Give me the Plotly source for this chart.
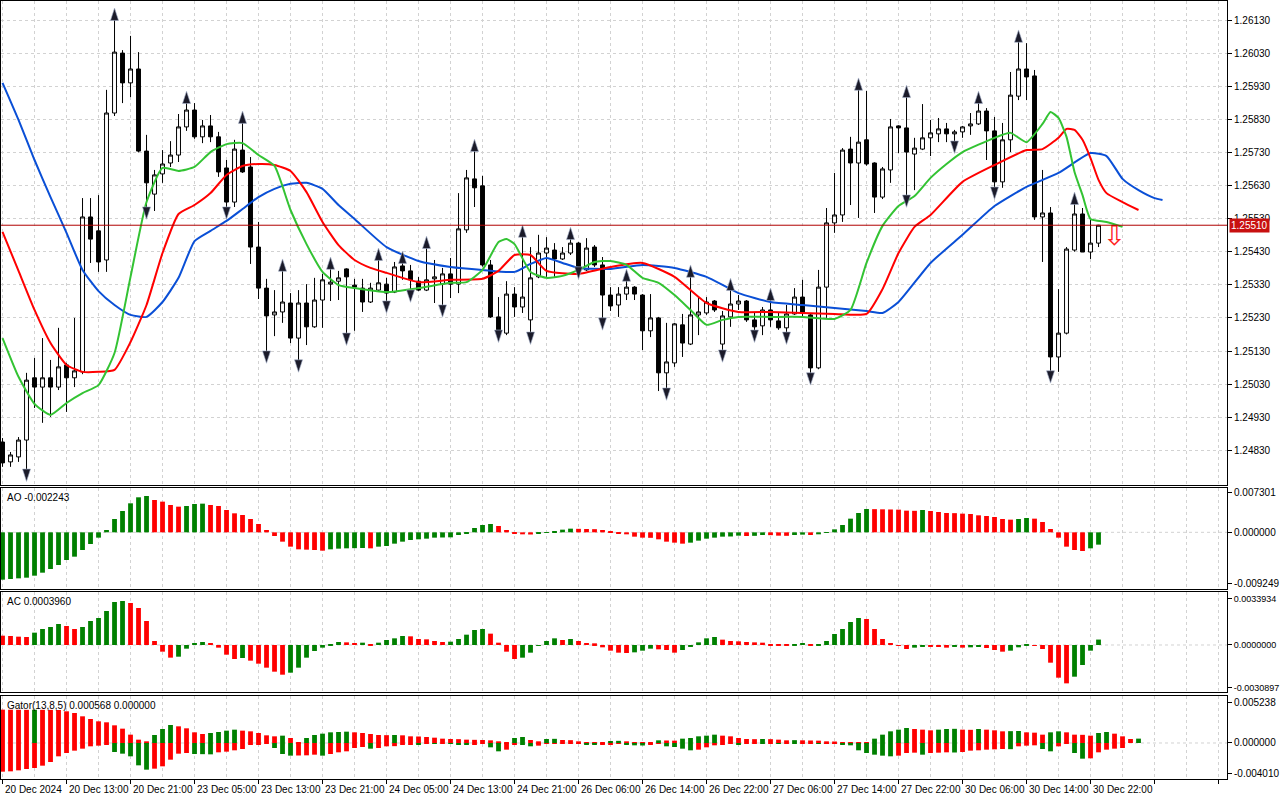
import plotly.graph_objects as go
from plotly.subplots import make_subplots

# ---- GBPUSD H1, 20 Dec 2024 05:00 .. 30 Dec 2024 23:00 (138 bars) ----
open_ = [
    1.24855, 1.24795, 1.24810, 1.24861, 1.25049, 1.25021, 1.25049, 1.25021, 1.25088, 1.25049,
    1.25067, 1.25535, 1.25493, 1.25405, 1.25849, 1.26030, 1.25940, 1.25982, 1.25734, 1.25604,
    1.25665, 1.25698, 1.25722, 1.25807, 1.25858, 1.25777, 1.25810, 1.25777, 1.25683, 1.25580,
    1.25737, 1.25686, 1.25444, 1.25320, 1.25239, 1.25248, 1.25275, 1.25169, 1.25275, 1.25203,
    1.25284, 1.25332, 1.25341, 1.25378, 1.25329, 1.25320, 1.25278, 1.25314, 1.25332, 1.25308,
    1.25387, 1.25372, 1.25341, 1.25314, 1.25348, 1.25332, 1.25363, 1.25332, 1.25496, 1.25650,
    1.25629, 1.25390, 1.25233, 1.25184, 1.25302, 1.25263, 1.25224, 1.25354, 1.25426, 1.25435,
    1.25408, 1.25426, 1.25456, 1.25375, 1.25444, 1.25390, 1.25299, 1.25269, 1.25302, 1.25323,
    1.25299, 1.25191, 1.25230, 1.25064, 1.25094, 1.25209, 1.25151, 1.25239, 1.25245, 1.25281,
    1.25151, 1.25233, 1.25272, 1.25281, 1.25224, 1.25206, 1.25254, 1.25221, 1.25200, 1.25242,
    1.25293, 1.25239, 1.25079, 1.25323, 1.25517, 1.25541, 1.25740, 1.25698, 1.25768, 1.25698,
    1.25595, 1.25677, 1.25810, 1.25804, 1.25725, 1.25740, 1.25774, 1.25786, 1.25801, 1.25786,
    1.25792, 1.25810, 1.25816, 1.25855, 1.25795, 1.25641, 1.25768, 1.25900, 1.25982, 1.25961,
    1.25535, 1.25547, 1.25112, 1.25184, 1.25435, 1.25544, 1.25429, 1.25456,
]
high = [
    1.24867, 1.24825, 1.24870, 1.25064, 1.25109, 1.25169, 1.25103, 1.25200, 1.25094, 1.25230,
    1.25592, 1.25592, 1.25601, 1.25919, 1.26139, 1.26039, 1.26082, 1.26033, 1.25783, 1.25677,
    1.25737, 1.25764, 1.25846, 1.25888, 1.25879, 1.25828, 1.25843, 1.25792, 1.25707, 1.25768,
    1.25828, 1.25716, 1.25520, 1.25348, 1.25314, 1.25381, 1.25305, 1.25314, 1.25332, 1.25351,
    1.25363, 1.25387, 1.25372, 1.25380, 1.25348, 1.25348, 1.25336, 1.25414, 1.25351, 1.25399,
    1.25405, 1.25390, 1.25354, 1.25450, 1.25405, 1.25381, 1.25411, 1.25607, 1.25677, 1.25743,
    1.25659, 1.25405, 1.25293, 1.25341, 1.25323, 1.25484, 1.25444, 1.25481, 1.25474, 1.25456,
    1.25444, 1.25477, 1.25459, 1.25471, 1.25450, 1.25414, 1.25323, 1.25323, 1.25351, 1.25326,
    1.25302, 1.25302, 1.25233, 1.25215, 1.25215, 1.25242, 1.25363, 1.25293, 1.25293, 1.25284,
    1.25251, 1.25323, 1.25299, 1.25284, 1.25245, 1.25263, 1.25293, 1.25245, 1.25269, 1.25320,
    1.25345, 1.25242, 1.25375, 1.25562, 1.25668, 1.25743, 1.25777, 1.25928, 1.25916, 1.25700,
    1.25686, 1.25831, 1.25812, 1.25906, 1.25774, 1.25876, 1.25828, 1.25834, 1.25819, 1.25798,
    1.25810, 1.25849, 1.25888, 1.25864, 1.25837, 1.25819, 1.25973, 1.26073, 1.26060, 1.25979,
    1.25677, 1.25565, 1.25317, 1.25444, 1.25583, 1.25562, 1.25526, 1.25511,
]
low = [
    1.24780, 1.24780, 1.24795, 1.24758, 1.24958, 1.24913, 1.24931, 1.25012, 1.24946, 1.25021,
    1.25060, 1.25396, 1.25369, 1.25369, 1.25840, 1.25879, 1.25897, 1.25730, 1.25550, 1.25553,
    1.25638, 1.25686, 1.25701, 1.25795, 1.25771, 1.25758, 1.25761, 1.25656, 1.25550, 1.25565,
    1.25668, 1.25393, 1.25287, 1.25115, 1.25175, 1.25215, 1.25154, 1.25088, 1.25148, 1.25200,
    1.25200, 1.25281, 1.25284, 1.25169, 1.25191, 1.25248, 1.25275, 1.25311, 1.25266, 1.25305,
    1.25345, 1.25299, 1.25311, 1.25311, 1.25275, 1.25254, 1.25290, 1.25305, 1.25487, 1.25565,
    1.25385, 1.25230, 1.25178, 1.25178, 1.25233, 1.25245, 1.25172, 1.25350, 1.25354, 1.25354,
    1.25405, 1.25420, 1.25369, 1.25372, 1.25384, 1.25215, 1.25251, 1.25233, 1.25284, 1.25284,
    1.25133, 1.25172, 1.25009, 1.25003, 1.25082, 1.25112, 1.25148, 1.25178, 1.25239, 1.25248,
    1.25118, 1.25203, 1.25254, 1.25218, 1.25178, 1.25178, 1.25203, 1.25194, 1.25172, 1.25239,
    1.25233, 1.25049, 1.25075, 1.25230, 1.25487, 1.25520, 1.25571, 1.25532, 1.25690, 1.25547,
    1.25589, 1.25638, 1.25728, 1.25586, 1.25616, 1.25737, 1.25719, 1.25761, 1.25761, 1.25749,
    1.25774, 1.25783, 1.25813, 1.25707, 1.25610, 1.25623, 1.25731, 1.25888, 1.25888, 1.25526,
    1.25399, 1.25055, 1.25067, 1.25180, 1.25430, 1.25429, 1.25408, 1.25444,
]
close = [
    1.24792, 1.24816, 1.24861, 1.25042, 1.25021, 1.25049, 1.25021, 1.25082, 1.25049, 1.25070,
    1.25535, 1.25468, 1.25399, 1.25849, 1.26033, 1.25940, 1.25982, 1.25734, 1.25638, 1.25662,
    1.25695, 1.25722, 1.25807, 1.25858, 1.25777, 1.25810, 1.25777, 1.25671, 1.25580, 1.25740,
    1.25671, 1.25444, 1.25320, 1.25236, 1.25248, 1.25278, 1.25169, 1.25275, 1.25203, 1.25284,
    1.25345, 1.25338, 1.25351, 1.25354, 1.25323, 1.25278, 1.25320, 1.25336, 1.25305, 1.25384,
    1.25372, 1.25345, 1.25314, 1.25345, 1.25354, 1.25363, 1.25332, 1.25499, 1.25653, 1.25623,
    1.25390, 1.25233, 1.25184, 1.25302, 1.25263, 1.25293, 1.25351, 1.25426, 1.25441, 1.25408,
    1.25426, 1.25456, 1.25381, 1.25441, 1.25390, 1.25299, 1.25266, 1.25302, 1.25323, 1.25302,
    1.25191, 1.25230, 1.25064, 1.25097, 1.25212, 1.25154, 1.25239, 1.25248, 1.25278, 1.25254,
    1.25236, 1.25272, 1.25281, 1.25224, 1.25203, 1.25254, 1.25224, 1.25200, 1.25242, 1.25293,
    1.25245, 1.25079, 1.25323, 1.25517, 1.25541, 1.25737, 1.25698, 1.25761, 1.25695, 1.25595,
    1.25680, 1.25807, 1.25804, 1.25731, 1.25743, 1.25774, 1.25789, 1.25801, 1.25786, 1.25792,
    1.25807, 1.25816, 1.25855, 1.25795, 1.25641, 1.25768, 1.25903, 1.25982, 1.25958, 1.25535,
    1.25547, 1.25112, 1.25184, 1.25438, 1.25544, 1.25429, 1.25456, 1.25510,
]

# Alligator lines (bar index, value), already shifted forward as drawn
jaw_x = [0, 2, 4, 6, 8, 10, 12, 14, 16, 18, 20, 22, 24, 26, 28, 30, 32, 34, 36, 38,
         40, 42, 44, 48, 52, 56, 60, 64, 66, 68, 70, 72, 76, 80, 84, 88, 92, 96, 100, 104,
         108, 110, 112, 116, 120, 124, 128, 132, 136, 138, 140, 142, 144, 145]
jaw = [1.25940, 1.25828, 1.25707, 1.25595, 1.25487, 1.25375, 1.25311, 1.25269, 1.25239, 1.25233,
       1.25278, 1.25351, 1.25462, 1.25493, 1.25523, 1.25559, 1.25595, 1.25620, 1.25635, 1.25638,
       1.25620, 1.25571, 1.25529, 1.25444, 1.25402, 1.25384, 1.25375, 1.25369, 1.25393, 1.25411,
       1.25396, 1.25381, 1.25378, 1.25390, 1.25381, 1.25354, 1.25305, 1.25278, 1.25269, 1.25260,
       1.25251, 1.25245, 1.25278, 1.25396, 1.25481, 1.25568, 1.25626, 1.25668, 1.25728, 1.25719,
       1.25650, 1.25616, 1.25592, 1.25586]
teeth_x = [0, 2, 4, 6, 8, 10, 12, 14, 16, 18, 20, 22, 24, 26, 28, 30, 32, 34, 36, 38,
           40, 42, 44, 46, 48, 52, 56, 60, 62, 64, 66, 68, 72, 76, 80, 84, 88, 92, 96, 100,
           104, 108, 110, 112, 114, 116, 120, 124, 128, 130, 132, 133, 134, 135, 136, 137, 138, 140, 142]
teeth = [1.25490, 1.25372, 1.25254, 1.25154, 1.25088, 1.25067, 1.25067, 1.25073, 1.25157, 1.25269,
         1.25426, 1.25544, 1.25571, 1.25607, 1.25662, 1.25689, 1.25695, 1.25692, 1.25674, 1.25610,
         1.25520, 1.25450, 1.25405, 1.25381, 1.25366, 1.25338, 1.25345, 1.25348, 1.25372, 1.25420,
         1.25420, 1.25372, 1.25363, 1.25384, 1.25396, 1.25354, 1.25275, 1.25248, 1.25248, 1.25245,
         1.25242, 1.25242, 1.25317, 1.25426, 1.25505, 1.25541, 1.25641, 1.25692, 1.25737, 1.25740,
         1.25774, 1.25801, 1.25798, 1.25768, 1.25713, 1.25647, 1.25607, 1.25580, 1.25556]
lips_x = [0, 2, 4, 6, 8, 10, 12, 14, 16, 18, 20, 22, 24, 26, 28, 30, 32, 34, 36, 38,
          40, 42, 44, 48, 52, 56, 58, 60, 62, 63, 64, 66, 68, 70, 72, 74, 76, 78, 80, 82,
          84, 86, 88, 90, 92, 96, 100, 104, 106, 108, 110, 112, 114, 116, 118, 120, 124, 126, 128, 130,
          131, 132, 133, 134, 135, 136, 138, 140]
lips = [1.25169, 1.25052, 1.24970, 1.24937, 1.24973, 1.25003, 1.25027, 1.25124, 1.25354, 1.25580,
        1.25683, 1.25674, 1.25686, 1.25731, 1.25755, 1.25758, 1.25722, 1.25689, 1.25556, 1.25453,
        1.25369, 1.25329, 1.25320, 1.25308, 1.25320, 1.25336, 1.25338, 1.25375, 1.25459, 1.25468,
        1.25453, 1.25369, 1.25351, 1.25357, 1.25375, 1.25399, 1.25402, 1.25390, 1.25351, 1.25336,
        1.25299, 1.25254, 1.25209, 1.25224, 1.25233, 1.25233, 1.25233, 1.25227, 1.25254, 1.25396,
        1.25508, 1.25568, 1.25598, 1.25653, 1.25695, 1.25731, 1.25774, 1.25789, 1.25761, 1.25816,
        1.25852, 1.25834, 1.25777, 1.25671, 1.25601, 1.25529, 1.25520, 1.25505]

fractal_up = [14, 23, 30, 35, 41, 47, 50, 53, 59, 65, 71, 78, 86, 91, 96, 107, 113, 122, 127, 134]
fractal_down = [3, 18, 28, 33, 37, 43, 48, 51, 55, 62, 66, 72, 75, 83, 90, 94, 98, 101, 113, 119, 124, 131]

signal_x = [139]
signal_y = [1.25471]

ao = [
    -0.008619, -0.008498, -0.008377, -0.008255, -0.007891, -0.007345, -0.006677, -0.005949, -0.005038, -0.004431,
    -0.003217, -0.002125, -0.000971, 0.000425, 0.002428, 0.003885, 0.005281, 0.006374, 0.006616, 0.005888,
    0.005584, 0.004977, 0.004674, 0.004795, 0.005160, 0.005220, 0.004977, 0.004795, 0.004067, 0.003460,
    0.003156, 0.002428, 0.001518, 0.000425, -0.000668, -0.001700, -0.002610, -0.003096, -0.003156, -0.003217,
    -0.003339, -0.003096, -0.002974, -0.002914, -0.002883, -0.002853, -0.002914, -0.002610, -0.002489, -0.002064,
    -0.001700, -0.001396, -0.001275, -0.001153, -0.000971, -0.000941, -0.000911, -0.000486, -0.000182, 0.000789,
    0.001335, 0.001518, 0.001153, 0.000425, -0.000243, -0.000364, -0.000395, -0.000243, -0.000121, 0.000243,
    0.000486, 0.000668, 0.000637, 0.000607, 0.000577, 0.000425, 0.000061, -0.000243, -0.000364, -0.000789,
    -0.000971, -0.001002, -0.001275, -0.001700, -0.001882, -0.002064, -0.001882, -0.001518, -0.001153, -0.000971,
    -0.000789, -0.000759, -0.000607, -0.000668, -0.000640, -0.000486, -0.000516, -0.000607, -0.000637, -0.000486,
    -0.000425, -0.000486, -0.000364, -0.000061, 0.000546, 0.001335, 0.002489, 0.003521, 0.004249, 0.004219,
    0.004188, 0.004158, 0.004128, 0.003946, 0.003915, 0.004067, 0.003885, 0.003703, 0.003521, 0.003490,
    0.003399, 0.003339, 0.003096, 0.002974, 0.002792, 0.002428, 0.002307, 0.002428, 0.002610, 0.002489,
    0.001882, 0.000607, -0.000971, -0.002610, -0.003217, -0.003399, -0.002914, -0.002243,
]
ac = [
    0.000680, 0.000656, 0.000608, 0.000583, 0.000899, 0.001166, 0.001312, 0.001531, 0.001385, 0.001166,
    0.001312, 0.001750, 0.001968, 0.002479, 0.003135, 0.003208, 0.003062, 0.002697, 0.001750, 0.000292,
    -0.000486, -0.000923, -0.000851, -0.000267, 0.000146, 0.000219, 0.000146, -0.000194, -0.000705, -0.001021,
    -0.000948, -0.001142, -0.001361, -0.001652, -0.001944, -0.002163, -0.002017, -0.001652, -0.000923, -0.000437,
    -0.000194, 0.000049, 0.000219, 0.000194, 0.000146, 0.000170, 0.000073, 0.000170, 0.000365, 0.000486,
    0.000656, 0.000632, 0.000437, 0.000413, 0.000292, 0.000219, 0.000243, 0.000437, 0.000753, 0.001094,
    0.001166, 0.000826, 0.000170, -0.000486, -0.001021, -0.000923, -0.000559, -0.000024, 0.000292, 0.000486,
    0.000365, 0.000437, 0.000292, 0.000146, 0.000122, -0.000170, -0.000413, -0.000559, -0.000583, -0.000535,
    -0.000413, -0.000267, -0.000316, -0.000365, -0.000559, -0.000365, -0.000122, 0.000194, 0.000486, 0.000583,
    0.000389, 0.000292, 0.000267, 0.000219, 0.000194, 0.000170, 0.000073, 0.000024, 0.000005, 0.000073,
    0.000146, 0.000049, 0.000073, 0.000292, 0.000802, 0.001166, 0.001677, 0.001968, 0.001895, 0.001166,
    0.000437, 0.000146, -0.000024, -0.000292, -0.000194, -0.000073, -0.000097, -0.000146, -0.000194, -0.000122,
    -0.000194, -0.000170, -0.000146, -0.000219, -0.000365, -0.000486, -0.000413, -0.000170, 0.000073, -0.000049,
    -0.000292, -0.001288, -0.002381, -0.002795, -0.002309, -0.001458, -0.000413, 0.000396,
]
gator_up = [
    0.004340, 0.004331, 0.004323, 0.004314, 0.004327, 0.004318, 0.004310, 0.004297, 0.004123, 0.003906,
    0.003472, 0.003125, 0.002821, 0.002691, 0.002300, 0.001866, 0.001085, 0.000434, 0.000217, 0.001042,
    0.001823, 0.002344, 0.002170, 0.001910, 0.001389, 0.001172, 0.001302, 0.001432, 0.001606, 0.001736,
    0.001606, 0.001519, 0.001302, 0.000998, 0.000868, 0.000955, 0.000651, 0.000087, 0.000651, 0.001042,
    0.001215, 0.001389, 0.001432, 0.001476, 0.001389, 0.001302, 0.001172, 0.001042, 0.001020, 0.001042,
    0.000998, 0.000868, 0.000846, 0.000781, 0.000694, 0.000564, 0.000521, 0.000499, 0.000434, 0.000412,
    0.000391, 0.000347, 0.000217, 0.000087, 0.000651, 0.000781, 0.000391, 0.000217, 0.000521, 0.000543,
    0.000391, 0.000369, 0.000217, 0.000130, 0.000087, 0.000065, 0.000260, 0.000282, 0.000217, 0.000130,
    0.000087, 0.000022, 0.000347, 0.000326, 0.000304, 0.000564, 0.000651, 0.000868, 0.000955, 0.001085,
    0.000955, 0.000868, 0.000651, 0.000521, 0.000499, 0.000521, 0.000499, 0.000434, 0.000347, 0.000369,
    0.000347, 0.000326, 0.000304, 0.000217, 0.000195, 0.000130, 0.000043, 0.000022, 0.000013, 0.000564,
    0.001085, 0.001519, 0.001736, 0.001953, 0.001823, 0.001736, 0.001649, 0.001736, 0.001823, 0.001845,
    0.001736, 0.001714, 0.001823, 0.001736, 0.001649, 0.001519, 0.001541, 0.001562, 0.001389, 0.001345,
    0.001085, 0.001389, 0.001519, 0.001389, 0.001085, 0.001063, 0.000955, 0.001302, 0.001432, 0.001215,
    0.000868, 0.000521, 0.000568,
]
gator_down = [
    -0.003732, -0.003689, -0.003559, -0.003385, -0.003255, -0.002951, -0.002474, -0.001736, -0.001302, -0.000998,
    -0.000738, -0.000434, -0.000347, -0.000217, -0.001172, -0.001389, -0.001736, -0.002908, -0.003472, -0.003342,
    -0.003038, -0.002170, -0.001389, -0.001302, -0.001432, -0.001454, -0.001476, -0.001215, -0.001128, -0.000955,
    -0.000781, -0.000217, -0.000130, -0.000087, -0.000651, -0.001432, -0.001649, -0.001628, -0.001606, -0.001519,
    -0.001649, -0.001432, -0.001215, -0.001085, -0.000651, -0.000521, -0.000738, -0.000651, -0.000434, -0.000412,
    -0.000217, -0.000130, -0.000217, -0.000087, -0.000109, -0.000087, -0.000109, -0.000130, -0.000152, -0.000130,
    -0.000109, -0.000564, -0.001085, -0.000868, -0.000130, -0.000217, -0.000434, -0.000347, -0.000087, -0.000065,
    -0.000043, -0.000035, -0.000026, -0.000130, -0.000217, -0.000195, -0.000130, -0.000087, -0.000130, -0.000304,
    -0.000326, -0.000217, -0.000087, -0.000434, -0.000521, -0.000738, -0.000955, -0.000868, -0.000564, -0.000304,
    -0.000130, -0.000022, -0.000217, -0.000087, -0.000065, -0.000078, -0.000043, -0.000087, -0.000078, -0.000087,
    -0.000078, -0.000065, -0.000078, -0.000065, -0.000052, -0.000217, -0.000304, -0.000955, -0.001302, -0.001519,
    -0.001649, -0.001736, -0.001649, -0.001302, -0.001259, -0.001519, -0.001302, -0.001259, -0.001215, -0.001237,
    -0.001172, -0.000998, -0.000955, -0.000868, -0.000825, -0.000781, -0.000803, -0.000434, -0.000347, -0.000304,
    -0.000781, -0.001085, -0.000434, -0.000087, -0.001302, -0.002040, -0.001996, -0.001215, -0.000868, -0.000738,
    -0.000651,
]

price_ticks = [1.24830, 1.24930, 1.25030, 1.25130, 1.25230, 1.25330, 1.25430,
               1.25530, 1.25630, 1.25730, 1.25830, 1.25930, 1.26030, 1.26130]
ao_ticks = [0.007301, 0.0, -0.009249]
ac_ticks = [0.0033934, 0.0, -0.0030897]
gator_ticks = [0.005238, 0.0, -0.004010]

date_pos = list(range(0, 137, 8))
date_labels = ["20 Dec 2024", "20 Dec 13:00", "20 Dec 21:00", "23 Dec 05:00", "23 Dec 13:00",
               "23 Dec 21:00", "24 Dec 05:00", "24 Dec 13:00", "24 Dec 21:00", "26 Dec 06:00",
               "26 Dec 14:00", "26 Dec 22:00", "27 Dec 06:00", "27 Dec 14:00", "27 Dec 22:00",
               "30 Dec 06:00", "30 Dec 14:00", "30 Dec 22:00"]

GREEN = "#008000"
RED = "#ff0000"
GRID = "#d2d2d2"
FONT = "Liberation Sans"


def up_down_colors(values, first, by_size=False):
    # MT-style: green when the bar grows vs. the previous one, red otherwise
    cols = [first]
    for prev, cur in zip(values[:-1], values[1:]):
        if by_size:
            grew = abs(cur) > abs(prev)
        else:
            grew = cur > prev
        cols.append(GREEN if grew else RED)
    return cols


bars = list(range(len(close)))

fig = make_subplots(rows=4, cols=1, shared_xaxes=True, vertical_spacing=0.004)

fig.add_trace(go.Candlestick(
    x=bars, open=open_, high=high, low=low, close=close,
    increasing=dict(line=dict(color="black", width=1), fillcolor="white"),
    decreasing=dict(line=dict(color="black", width=1), fillcolor="black"),
    whiskerwidth=0, hoverinfo="skip"), row=1, col=1)

for xs, ys, col in [(jaw_x, jaw, "#0a4fd6"), (teeth_x, teeth, "#ff0000"), (lips_x, lips, "#33c333")]:
    fig.add_trace(go.Scatter(x=xs, y=ys, mode="lines",
                             line=dict(color=col, width=2, shape="spline", smoothing=0.5)),
                  row=1, col=1)

# fractal arrowheads
fig.add_trace(go.Scatter(
    x=fractal_up, y=[high[i] + 0.00027 for i in fractal_up], mode="markers",
    marker=dict(symbol="arrow", size=13, color="#1b1b2a",
                line=dict(color="#a8b4cc", width=0.6))), row=1, col=1)
fig.add_trace(go.Scatter(
    x=fractal_down, y=[low[i] - 0.00022 for i in fractal_down], mode="markers",
    marker=dict(symbol="arrow", angle=180, size=13, color="#1b1b2a",
                line=dict(color="#a8b4cc", width=0.6))), row=1, col=1)

fig.add_trace(go.Scatter(x=signal_x, y=signal_y, mode="text", text=["⇩"],
                         textfont=dict(size=27, color="#ff2020", family="DejaVu Sans")),
              row=1, col=1)

fig.add_hline(y=close[-1], row=1, col=1, line=dict(color="#b00000", width=1))

fig.add_trace(go.Bar(x=bars, y=ao, width=0.6, marker=dict(color=up_down_colors(ao, GREEN), line=dict(width=0))),
              row=2, col=1)
fig.add_trace(go.Bar(x=bars, y=ac, width=0.6, marker=dict(color=up_down_colors(ac, RED), line=dict(width=0))),
              row=3, col=1)
fig.add_trace(go.Bar(x=list(range(len(gator_up))), y=gator_up, width=0.6,
                     marker=dict(color=up_down_colors(gator_up, RED, True), line=dict(width=0))),
              row=4, col=1)
fig.add_trace(go.Bar(x=list(range(len(gator_down))), y=gator_down, width=0.6,
                     marker=dict(color=up_down_colors(gator_down, RED, True), line=dict(width=0))),
              row=4, col=1)

for r in (2, 3, 4):
    fig.add_hline(y=0, row=r, col=1, layer="below",
                  line=dict(color=GRID, width=1, dash="3px,3px"))

x_common = dict(
    range=[-0.19, 153.06], tickmode="array", tickvals=list(range(0, 153, 8)),
    showticklabels=False, showgrid=True, gridcolor=GRID, griddash="3px,3px", gridwidth=1,
    minor=dict(tickmode="array", tickvals=list(range(4, 153, 8)), showgrid=True,
               gridcolor=GRID, griddash="3px,3px", gridwidth=1, ticks=""),
    showline=True, linecolor="black", linewidth=1, mirror=True, zeroline=False,
    ticks="", fixedrange=True, automargin=False,
)
for r in (1, 2, 3, 4):
    fig.update_xaxes(row=r, col=1, **x_common)
fig.update_xaxes(row=1, col=1, rangeslider=dict(visible=False))
fig.update_xaxes(row=4, col=1, ticks="outside", ticklen=4, tickcolor="black")

y_common = dict(side="right", showline=True, linecolor="black", linewidth=1, mirror=True,
                ticks="outside", ticklen=4, tickcolor="black", zeroline=False, fixedrange=True,
                automargin=False, tickfont=dict(size=10, family=FONT, color="black"))
fig.update_yaxes(row=1, col=1, range=[1.247252, 1.261874], tickmode="array",
                 tickvals=price_ticks, ticktext=[f"{v:.5f}" for v in price_ticks],
                 showgrid=True, gridcolor=GRID, griddash="3px,3px", **y_common)
fig.update_yaxes(row=2, col=1, range=[-0.010319, 0.008063], tickmode="array",
                 tickvals=ao_ticks, ticktext=[f"{v:.6f}" for v in ao_ticks], showgrid=False, **y_common)
fig.update_yaxes(row=3, col=1, range=[-0.003426, 0.003864], tickmode="array",
                 tickvals=ac_ticks, ticktext=[f"{v:.7f}" for v in ac_ticks], showgrid=False, **y_common)
fig.update_yaxes(row=3, col=1, tickfont=dict(size=9))
fig.update_yaxes(row=4, col=1, range=[-0.004687, 0.006119], tickmode="array",
                 tickvals=gator_ticks, ticktext=[f"{v:.6f}" for v in gator_ticks], showgrid=False, **y_common)

fig.update_layout(
    width=1280, height=800,
    margin=dict(l=1, r=53, t=1, b=21),
    paper_bgcolor="white", plot_bgcolor="white",
    showlegend=False, barmode="overlay",
    font=dict(family=FONT, size=10, color="black"),
    yaxis=dict(domain=[0.3779, 1.0]),
    yaxis2=dict(domain=[0.2442, 0.3740]),
    yaxis3=dict(domain=[0.1118, 0.2404]),
    yaxis4=dict(domain=[0.0, 0.1067]),
)

# indicator captions in the sub-windows
captions = [
    ("y2", f"AO {ao[-1]:.6f}"),
    ("y3", f"AC {ac[-1]:.7f}"),
    ("y4", f"Gator(13,8,5) {gator_up[-1]:.6f} {0:.6f}"),
]
for yref, txt in captions:
    fig.add_annotation(text=txt, xref="paper", x=0, xanchor="left", xshift=4,
                       yref=f"{yref} domain", y=1, yanchor="top", yshift=-2,
                       showarrow=False, font=dict(size=10, family=FONT, color="black"))

# current price badge on the price scale
fig.add_annotation(text=f"{close[-1]:.5f}", xref="paper", x=1, xanchor="left", xshift=2,
                   yref="y", y=close[-1], yanchor="middle", showarrow=False,
                   bgcolor="#c81010", borderpad=1,
                   font=dict(size=10, family=FONT, color="white"))

for pos, lab in zip(date_pos, date_labels):
    fig.add_annotation(text=lab, xref="x4", x=pos, xanchor="left", xshift=0,
                       yref="paper", y=0, yanchor="top", yshift=-3,
                       showarrow=False, font=dict(size=10, family=FONT, color="black"))

fig.write_html("out.html", config={"displayModeBar": False},
               post_script="document.body.style.margin='0px';")
